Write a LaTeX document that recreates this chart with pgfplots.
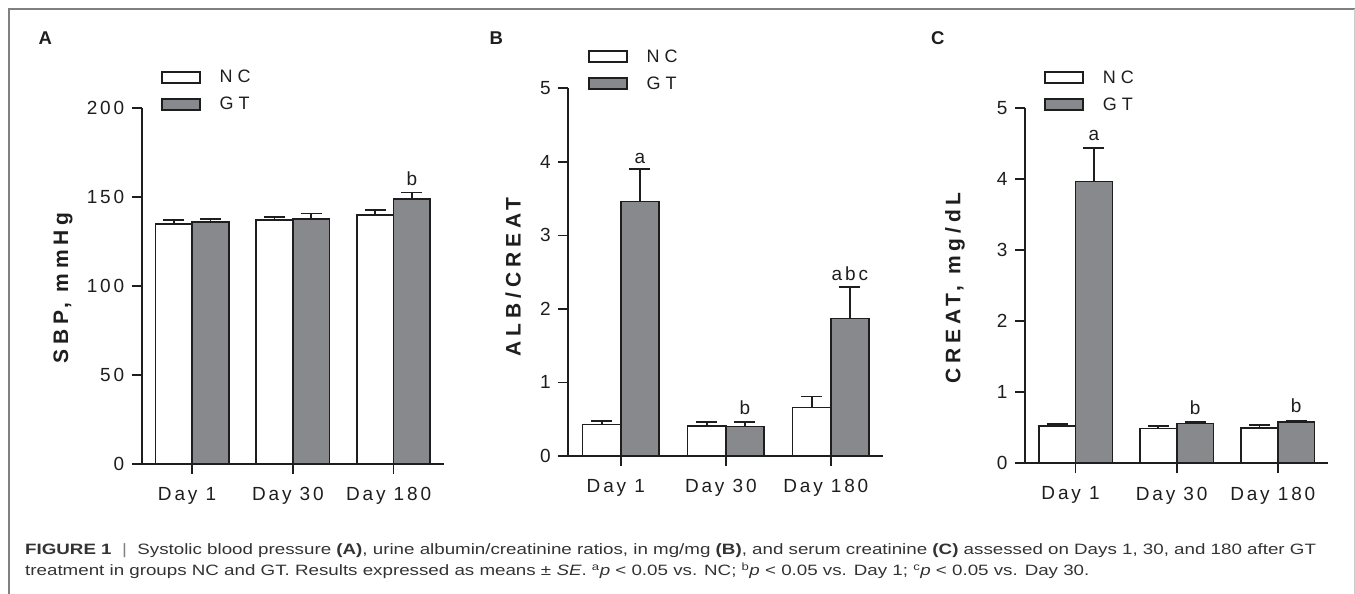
\documentclass[border=0pt]{standalone}
\usepackage{fontspec}
\setmainfont{Liberation Sans}
\newfontfamily\spf[LetterSpace=15]{Liberation Sans}
\newfontfamily\lgf[LetterSpace=28]{Liberation Sans}
\newfontfamily\ylf[LetterSpace=23]{Liberation Sans}
\newfontfamily\capf[FakeStretch=1.25]{Liberation Sans}
\usepackage{pgfplots}
\pgfplotsset{compat=1.18}
\definecolor{gtgray}{HTML}{88898D}
\definecolor{ink}{HTML}{1E1E1E}
\definecolor{framec}{HTML}{808080}
\definecolor{captxt}{HTML}{333333}
\pgfplotsset{
 panel/.style={
  scale only axis, ybar, clip=false,
  axis x line*=bottom, axis y line*=left,
  xmin=-0.5, xmax=2.5, ymin=0,
  xtick={0,1,2}, xticklabels={Day 1,Day 30,Day 180},
  tick align=outside, major tick length=10pt,
  every tick/.style={ink, line width=1.7pt},
  axis line style={ink, line width=1.7pt},
  ticklabel style={font=\spf\fontsize{19}{19}\selectfont, text=ink},
  xticklabel style={xshift=-5pt, yshift=-10pt},
  yticklabel style={xshift=-4pt},
  /pgf/number format/assume math mode=true,
  ylabel style={font=\ylf\bfseries\fontsize{21}{21}\selectfont, text=ink, anchor=center},
  bar width=0.364,
  legend image code/.code={\draw[#1] (0pt,-5.5pt) rectangle (38pt,5.5pt);},
  legend style={draw=none, fill=none, anchor=north west, inner sep=0pt,
    font=\lgf\fontsize{18}{18}\selectfont, text=ink, row sep=9pt,
    /tikz/every odd column/.append style={column sep=17pt}},
  legend cell align=left,
 },
 ncbar/.style={draw=ink, fill=white, line width=1.7pt, bar shift=-0.182,
   error bars/.cd, y dir=plus, y explicit, error mark=|,
   error bar style={ink, line width=1.7pt},
   error mark options={ink, line width=1.7pt, mark size=10.5pt}},
 gtbar/.style={draw=ink, fill=gtgray, line width=1.7pt, bar shift=0.182,
   error bars/.cd, y dir=plus, y explicit, error mark=|,
   error bar style={ink, line width=1.7pt},
   error mark options={ink, line width=1.7pt, mark size=10.5pt}},
}
\begin{document}
\begin{tikzpicture}
\path[use as bounding box] (0pt,0pt) rectangle (1355pt,594pt);
\draw[framec, line width=1.5pt] (9pt,0pt) -- (9pt,585pt) -- (1355pt,585pt);
\draw[black!20, line width=1pt] (1354pt,0pt) -- (1354pt,585pt);
% Panel A
\node[anchor=base west, inner sep=0pt, font=\bfseries\fontsize{18.5}{18.5}\selectfont, text=ink] at (38.5pt,549pt) {A};
\begin{axis}[panel, at={(141.7pt,130pt)}, anchor=south west, width=302.3pt, height=356pt,
  ymax=200, ytick={0,50,100,150,200}, ylabel={SBP, mmHg},
  ylabel style={at={(axis description cs:-0.260,0.494)}},
  legend style={at={(axis description cs:0.0629,1.112)}}]
\addplot[ncbar] coordinates {(0,135.0) +- (0,1.9) (1,136.9) +- (0,1.9) (2,139.9) +- (0,2.8)};
\addlegendentry{NC}
\addplot[gtbar] coordinates {(0,136.0) +- (0,1.6) (1,137.8) +- (0,3.0) (2,148.9) +- (0,3.7)};
\addlegendentry{GT}
\node[anchor=base, font=\fontsize{19}{19}\selectfont, text=ink] at (axis cs:2.182,156.7) {b};
\end{axis}
% Panel B
\node[anchor=base west, inner sep=0pt, font=\bfseries\fontsize{18.5}{18.5}\selectfont, text=ink] at (489.5pt,549pt) {B};
\begin{axis}[panel, at={(568.3pt,138pt)}, anchor=south west, width=315pt, height=367.7pt,
  ymax=5, ytick={0,1,2,3,4,5}, ylabel={ALB/CREAT},
  ylabel style={at={(axis description cs:-0.175,0.487)}},
  legend style={at={(axis description cs:0.0616,1.1115)}}]
\addplot[ncbar] coordinates {(0,0.43) +- (0,0.046) (1,0.41) +- (0,0.057) (2,0.66) +- (0,0.15)};
\addlegendentry{NC}
\addplot[gtbar] coordinates {(0,3.46) +- (0,0.44) (1,0.40) +- (0,0.067) (2,1.87) +- (0,0.43)};
\addlegendentry{GT}
\node[anchor=base, font=\fontsize{19}{19}\selectfont, text=ink] at (axis cs:0.182,3.98) {a};
\node[anchor=base, font=\fontsize{19}{19}\selectfont, text=ink] at (axis cs:1.182,0.558) {b};
\node[anchor=base, font=\spf\fontsize{19}{19}\selectfont, text=ink] at (axis cs:2.182,2.38) {abc};
\end{axis}
% Panel C
\node[anchor=base west, inner sep=0pt, font=\bfseries\fontsize{18.5}{18.5}\selectfont, text=ink] at (931pt,549pt) {C};
\begin{axis}[panel, at={(1025pt,130.7pt)}, anchor=south west, width=303.3pt, height=355pt,
  ymax=5, ytick={0,1,2,3,4,5}, ylabel={CREAT, mg/dL},
  ylabel style={at={(axis description cs:-0.231,0.494)}},
  legend style={at={(axis description cs:0.0626,1.1127)}}]
\addplot[ncbar] coordinates {(0,0.525) +- (0,0.025) (1,0.49) +- (0,0.035) (2,0.50) +- (0,0.035)};
\addlegendentry{NC}
\addplot[gtbar] coordinates {(0,3.97) +- (0,0.47) (1,0.56) +- (0,0.025) (2,0.585) +- (0,0.015)};
\addlegendentry{GT}
\node[anchor=base, font=\fontsize{19}{19}\selectfont, text=ink] at (axis cs:0.182,4.544) {a};
\node[anchor=base, font=\fontsize{19}{19}\selectfont, text=ink] at (axis cs:1.182,0.69) {b};
\node[anchor=base, font=\fontsize{19}{19}\selectfont, text=ink] at (axis cs:2.182,0.718) {b};
\end{axis}
% Caption
\node[anchor=base west, inner sep=0pt, font=\capf\fontsize{15}{18}\selectfont, text=captxt] at (25pt,39pt)
 {\textbf{FIGURE 1}\ \ {\color{black!50}|}\ \ Systolic blood pressure \textbf{(A)}, urine albumin/creatinine ratios, in mg/mg \textbf{(B)}, and serum creatinine \textbf{(C)} assessed on Days 1, 30, and 180 after GT};
\node[anchor=base west, inner sep=0pt, font=\capf\fontsize{15}{18}\selectfont, text=captxt] at (25pt,18.5pt)
 {treatment in groups NC and GT. Results expressed as means ± \textit{SE}. \textsuperscript{a}\textit{p} < 0.05 vs. NC; \textsuperscript{b}\textit{p} < 0.05 vs. Day 1; \textsuperscript{c}\textit{p} < 0.05 vs. Day 30.};
\end{tikzpicture}
\end{document}
